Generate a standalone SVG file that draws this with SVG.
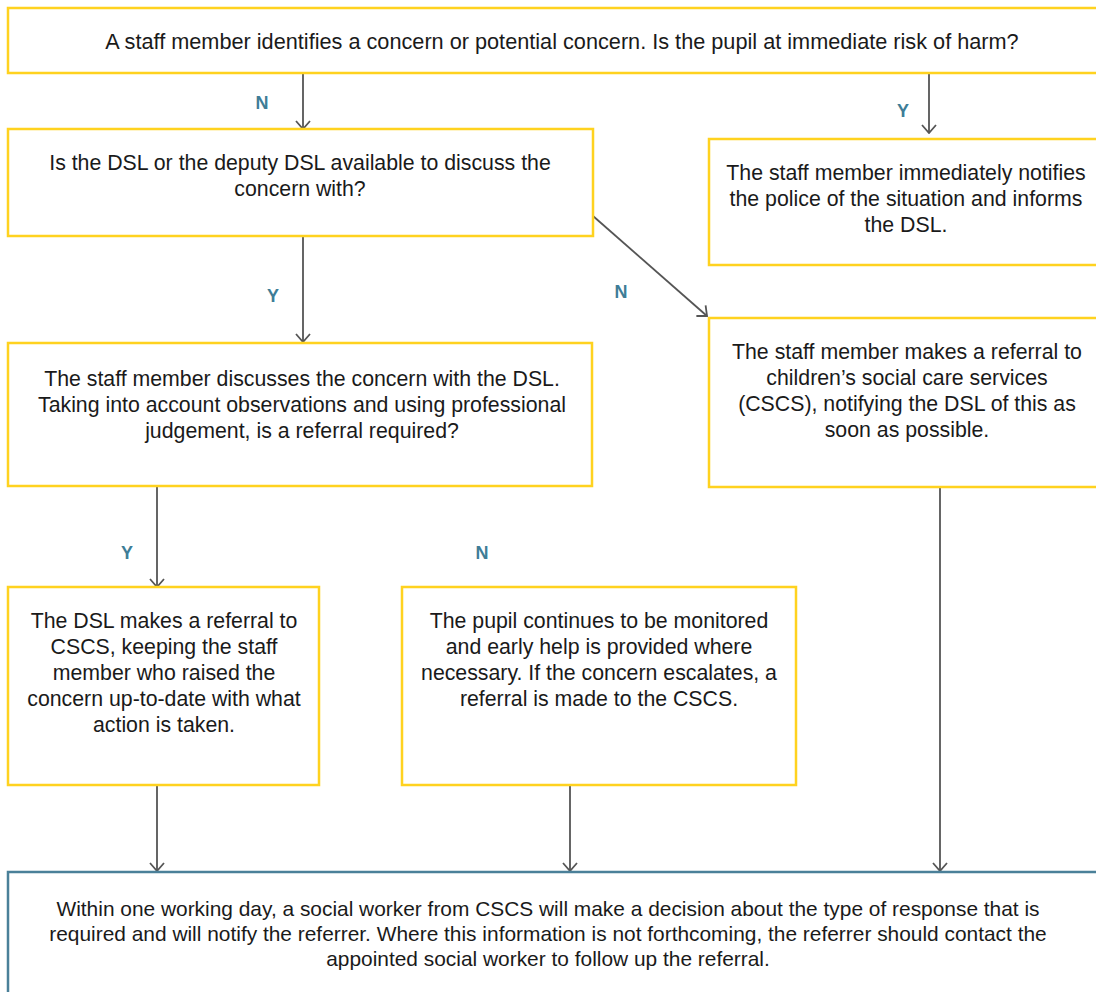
<svg xmlns="http://www.w3.org/2000/svg" width="1096" height="992" viewBox="0 0 1096 992">
<style>
.box{fill:#fff;stroke:#FFD21F;stroke-width:2.5}
.end{fill:#fff;stroke:#4A8099;stroke-width:2.5}
.t{font-family:"Liberation Sans",Arial,sans-serif;font-size:21.3px;fill:#1a1a1a;text-anchor:middle}
.lbl{font-family:"Liberation Sans",Arial,sans-serif;font-size:18px;font-weight:bold;fill:#3E7D97;text-anchor:middle}
.c{stroke:#555;stroke-width:1.8;fill:none;marker-end:url(#ah)}
</style>
<defs>
<marker id="ah" viewBox="0 0 16 16" refX="15" refY="8" markerWidth="16" markerHeight="16" markerUnits="userSpaceOnUse" orient="auto">
<polyline points="7,1 15,8 7,15" fill="none" stroke="#555" stroke-width="1.8"/>
</marker>
</defs>
<rect width="1096" height="992" fill="#fff"/>
<g id="connectors">
<line class="c" x1="303" y1="73" x2="303" y2="129"/>
<line class="c" x1="929" y1="73" x2="929" y2="133"/>
<line class="c" x1="303" y1="236" x2="303" y2="342"/>
<path class="c" d="M593,216 L707,316"/>
<line class="c" x1="157" y1="486" x2="157" y2="587"/>
<line class="c" x1="157" y1="785" x2="157" y2="871"/>
<line class="c" x1="570" y1="785" x2="570" y2="871"/>
<line class="c" x1="940" y1="487" x2="940" y2="871"/>
<text class="lbl" x="262" y="109">N</text>
<text class="lbl" x="903" y="117">Y</text>
<text class="lbl" x="273" y="302">Y</text>
<text class="lbl" x="621" y="298">N</text>
<text class="lbl" x="127" y="559">Y</text>
<text class="lbl" x="482" y="559">N</text>
</g>
<g id="n1">
<rect class="box" x="8" y="8" width="1100" height="65"/>
<text class="t" x="562" y="49" style="font-size:21.7px">A staff member identifies a concern or potential concern. Is the pupil at immediate risk of harm?</text>
</g>
<g id="n2">
<rect class="box" x="8" y="129" width="585" height="107"/>
<text class="t" x="300" y="170">Is the DSL or the deputy DSL available to discuss the</text>
<text class="t" x="300" y="196">concern with?</text>
</g>
<g id="n3">
<rect class="box" x="709" y="139" width="400" height="126"/>
<text class="t" x="906" y="180">The staff member immediately notifies</text>
<text class="t" x="906" y="206">the police of the situation and informs</text>
<text class="t" x="906" y="232">the DSL.</text>
</g>
<g id="n4">
<rect class="box" x="8" y="343" width="584" height="143"/>
<text class="t" x="302" y="386">The staff member discusses the concern with the DSL.</text>
<text class="t" x="302" y="412">Taking into account observations and using professional</text>
<text class="t" x="302" y="438">judgement, is a referral required?</text>
</g>
<g id="n5">
<rect class="box" x="709" y="318" width="400" height="169"/>
<text class="t" x="907" y="359">The staff member makes a referral to</text>
<text class="t" x="907" y="385">children’s social care services</text>
<text class="t" x="907" y="411">(CSCS), notifying the DSL of this as</text>
<text class="t" x="907" y="437">soon as possible.</text>
</g>
<g id="n6">
<rect class="box" x="8" y="587" width="311" height="198"/>
<text class="t" x="164" y="628">The DSL makes a referral to</text>
<text class="t" x="164" y="654">CSCS, keeping the staff</text>
<text class="t" x="164" y="680">member who raised the</text>
<text class="t" x="164" y="706">concern up-to-date with what</text>
<text class="t" x="164" y="732">action is taken.</text>
</g>
<g id="n7">
<rect class="box" x="402" y="587" width="394" height="198"/>
<text class="t" x="599" y="628">The pupil continues to be monitored</text>
<text class="t" x="599" y="654">and early help is provided where</text>
<text class="t" x="599" y="680">necessary. If the concern escalates, a</text>
<text class="t" x="599" y="706">referral is made to the CSCS.</text>
</g>
<g id="n8">
<rect class="end" x="8" y="872" width="1100" height="130"/>
<text class="t" x="548" y="916" style="font-size:20.9px">Within one working day, a social worker from CSCS will make a decision about the type of response that is</text>
<text class="t" x="548" y="941" style="font-size:20.9px">required and will notify the referrer. Where this information is not forthcoming, the referrer should contact the</text>
<text class="t" x="548" y="966" style="font-size:20.9px">appointed social worker to follow up the referral.</text>
</g>
</svg>
